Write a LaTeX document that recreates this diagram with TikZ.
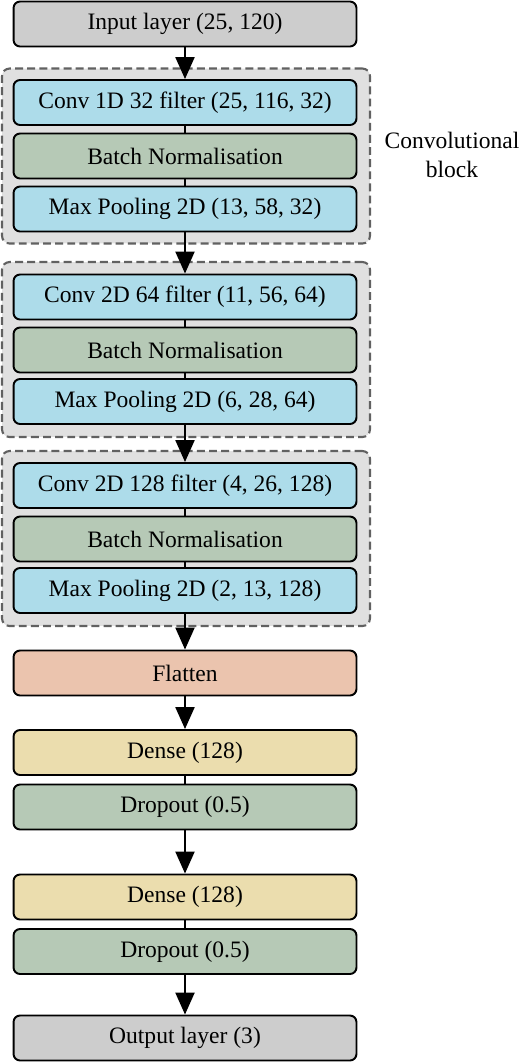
\documentclass[tikz,border=0pt]{standalone}
\usepackage{fontspec}
\setmainfont{Liberation Serif}
\usetikzlibrary{arrows.meta, positioning}
\definecolor{laygray}{HTML}{CDCDCD}
\definecolor{convblue}{HTML}{ADDCEA}
\definecolor{normgreen}{HTML}{B6C9B6}
\definecolor{flatpink}{HTML}{EBC4AE}
\definecolor{denseyel}{HTML}{EBDDAE}
\definecolor{blockgray}{HTML}{E0E0E0}
\tikzset{%
  layer/.style={draw, line width=1.1pt, rounded corners=0.13cm,
                minimum width=6.86cm, minimum height=0.9cm,
                font=\fontsize{13.4}{16}\selectfont},
  convblock/.style={draw=black!62, fill=blockgray, dash pattern=on 4.5pt off 2.4pt,
                line width=1.2pt, rounded corners=0.15cm,
                minimum width=7.36cm, minimum height=3.5cm},
  flow/.style={line width=1.3pt, -{Triangle[length=0.44cm, width=0.38cm]}},
  link/.style={line width=1.3pt},
}

\begin{document}
\begin{tikzpicture}[x=0.02cm, y=-0.02cm]
    \useasboundingbox (0,0) rectangle (520,1062);

    % dashed blocks
    \node[convblock] (B1) at (186,156) {};
    \node[convblock] (B2) at (186,349.5) {};
    \node[convblock] (B3) at (186,538.5) {};
    \node[align=center, font=\fontsize{13.4}{17}\selectfont] (lbl) at (452,155) {Convolutional\\block};

    % layers
    \node[layer, fill=laygray] (in) at (185,24) {Input layer (25, 120)};

    \node[layer, fill=convblue] (c1) at (185,102.5) {Conv 1D 32 filter (25, 116, 32)};
    \node[layer, fill=normgreen] (n1) at (185,156) {Batch Normalisation};
    \node[layer, fill=convblue] (p1) at (185,209) {Max Pooling 2D (13, 58, 32)};

    \node[layer, fill=convblue] (c2) at (185,297) {Conv 2D 64 filter (11, 56, 64)};
    \node[layer, fill=normgreen] (n2) at (185,350) {Batch Normalisation};
    \node[layer, fill=convblue] (p2) at (185,401.5) {Max Pooling 2D (6, 28, 64)};

    \node[layer, fill=convblue] (c3) at (185,485.5) {Conv 2D 128 filter (4, 26, 128)};
    \node[layer, fill=normgreen] (n3) at (185,539) {Batch Normalisation};
    \node[layer, fill=convblue] (p3) at (185,590.5) {Max Pooling 2D (2, 13, 128)};

    \node[layer, fill=flatpink] (fl) at (185,673) {Flatten};
    \node[layer, fill=denseyel] (d1) at (185,752.5) {Dense (128)};
    \node[layer, fill=normgreen] (r1) at (185,807) {Dropout (0.5)};
    \node[layer, fill=denseyel] (d2) at (185,897) {Dense (128)};
    \node[layer, fill=normgreen] (r2) at (185,951.5) {Dropout (0.5)};
    \node[layer, fill=laygray] (out) at (185,1038) {Output layer (3)};

    % connectors
    \draw[flow] (in) -- (c1);
    \draw[link] (c1) -- (n1);
    \draw[link] (n1) -- (p1);
    \draw[flow] (p1) -- (c2);
    \draw[link] (c2) -- (n2);
    \draw[link] (n2) -- (p2);
    \draw[flow] (p2) -- (c3);
    \draw[link] (c3) -- (n3);
    \draw[link] (n3) -- (p3);
    \draw[flow] (p3) -- (fl);
    \draw[flow] (fl) -- (d1);
    \draw[link] (d1) -- (r1);
    \draw[flow] (r1) -- (d2);
    \draw[link] (d2) -- (r2);
    \draw[flow] (r2) -- (out);
\end{tikzpicture}
\end{document}
